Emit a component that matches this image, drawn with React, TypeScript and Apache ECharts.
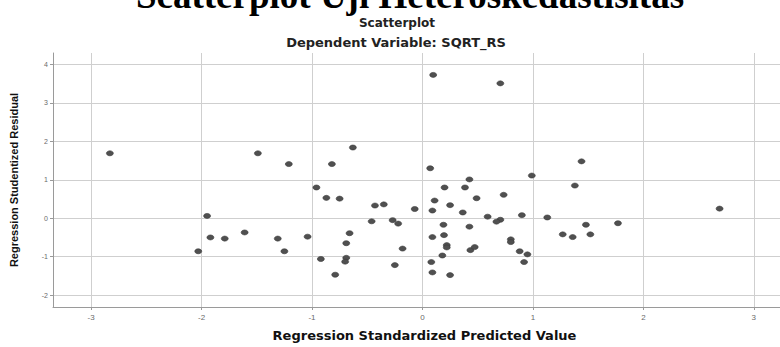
import React, { useEffect, useRef } from "react";
import * as echarts from "echarts";

const mainTitle = "Scatterplot Uji Heteroskedastisitas";
const chartTitle = "Scatterplot";
const chartSubtitle = "Dependent Variable: SQRT_RS";
const xAxisTitle = "Regression Standardized Predicted Value";
const yAxisTitle = "Regression Studentized Residual";

const xTicks = [-3, -2, -1, 0, 1, 2, 3];
const yTicks = [-2, -1, 0, 1, 2, 3, 4];

// Regression Standardized Predicted Value (x)
const predicted = [
  -2.83, -1.95, -1.92, -1.79, -1.61, -2.03, -1.49, -1.21, -0.82, -0.63,
  -0.96, -0.87, -0.75, -0.43, -0.35, -0.46, -0.27, -0.22, -1.31, -1.25,
  -1.04, -0.92, -0.66, -0.69, -0.69, -0.70, -0.79, -0.25, -0.18, 0.07,
  0.425, 0.20, 0.385, 0.735, 0.49, 0.11, 0.25, -0.07, 0.09, 0.365,
  0.59, 0.705, 0.67, 0.90, 0.19, 0.425, 0.09, 0.195, 0.22, 0.22,
  0.80, 0.80, 0.434, 0.473, 0.18, 0.88, 0.08, 0.09, 0.25, 0.097,
  0.705, 0.99, 1.38, 1.13, 2.69, 1.48, 1.77, 1.27, 1.36, 1.52,
  0.95, 0.92, 1.44,
];

// Regression Studentized Residual (y)
const residual = [
  1.69, 0.06, -0.50, -0.53, -0.37, -0.86, 1.69, 1.41, 1.41, 1.84,
  0.80, 0.53, 0.51, 0.33, 0.36, -0.08, -0.05, -0.14, -0.53, -0.86,
  -0.48, -1.06, -0.39, -0.65, -1.03, -1.13, -1.47, -1.22, -0.79, 1.30,
  1.01, 0.80, 0.80, 0.61, 0.52, 0.46, 0.34, 0.24, 0.20, 0.15,
  0.04, -0.04, -0.09, 0.08, -0.17, -0.22, -0.49, -0.44, -0.70, -0.76,
  -0.55, -0.62, -0.83, -0.75, -0.97, -0.86, -1.14, -1.41, -1.48, 3.73,
  3.51, 1.11, 0.85, 0.02, 0.25, -0.17, -0.13, -0.42, -0.49, -0.42,
  -0.94, -1.14, 1.48,
];

export default function App() {
  const ref = useRef<HTMLDivElement>(null);

  useEffect(() => {
    if (!ref.current) return;
    const chart = echarts.init(ref.current, undefined, { renderer: "svg" });
    const points = predicted.map((x, i) => [x, residual[i]]);
    const gridColor = "#cfcfcf";
    const axisColor = "#9a9a9a";
    const labelColor = "#6a6a6a";

    chart.setOption({
      animation: false,
      backgroundColor: "#ffffff",
      grid: { left: 52, right: 0, top: 53, bottom: 34, containLabel: false },
      xAxis: {
        type: "value",
        min: -3.345,
        max: 3.237,
        name: xAxisTitle,
        nameLocation: "middle",
        nameGap: 22,
        nameTextStyle: {
          fontFamily: "DejaVu Sans",
          fontWeight: "bold",
          fontSize: 13,
          color: "#111",
          padding: [0, 0, 0, 16],
        },
        axisLine: { show: true, onZero: false, lineStyle: { color: axisColor, width: 1 } },
        axisTick: { show: true, length: 3, lineStyle: { color: axisColor }, customValues: xTicks },
        axisLabel: {
          customValues: xTicks,
          color: labelColor,
          fontSize: 8,
          fontFamily: "Liberation Sans",
          margin: 6,
        },
        splitLine: { show: true, lineStyle: { color: gridColor, width: 1 } },
      },
      yAxis: {
        type: "value",
        min: -2.31,
        max: 4.3,
        name: yAxisTitle,
        nameLocation: "middle",
        nameGap: 34,
        nameRotate: 90,
        nameTextStyle: {
          fontFamily: "Liberation Sans",
          fontWeight: "bold",
          fontSize: 11,
          color: "#111",
        },
        axisLine: { show: true, onZero: false, lineStyle: { color: axisColor, width: 1 } },
        axisTick: { show: true, length: 3, lineStyle: { color: axisColor }, customValues: yTicks },
        axisLabel: {
          customValues: yTicks,
          color: labelColor,
          fontSize: 7,
          fontFamily: "Liberation Sans",
          margin: 5,
        },
        splitLine: { show: true, lineStyle: { color: gridColor, width: 1 } },
      },
      graphic: [
        {
          type: "text",
          x: 410,
          y: -5,
          silent: true,
          style: {
            text: mainTitle,
            font: 'bold 37px "Liberation Serif"',
            fill: "#000",
            align: "center",
            verticalAlign: "middle",
          },
        },
        {
          type: "text",
          x: 397,
          y: 23,
          silent: true,
          style: {
            text: chartTitle,
            font: 'bold 12px "DejaVu Sans"',
            fill: "#222",
            align: "center",
            verticalAlign: "middle",
          },
        },
        {
          type: "text",
          x: 396,
          y: 42,
          silent: true,
          style: {
            text: chartSubtitle,
            font: 'bold 13px "DejaVu Sans"',
            fill: "#222",
            align: "center",
            verticalAlign: "middle",
          },
        },
      ],
      series: [
        {
          type: "scatter",
          data: points,
          symbol: "circle",
          symbolSize: [7, 5],
          itemStyle: { color: "#505050", borderColor: "#3a3a3a", borderWidth: 0.6, opacity: 1 },
        },
      ],
    });

    return () => chart.dispose();
  }, []);

  return (
    <div
      ref={ref}
      style={{ position: "absolute", left: 0, top: 0, width: 780, height: 347 }}
    />
  );
}
